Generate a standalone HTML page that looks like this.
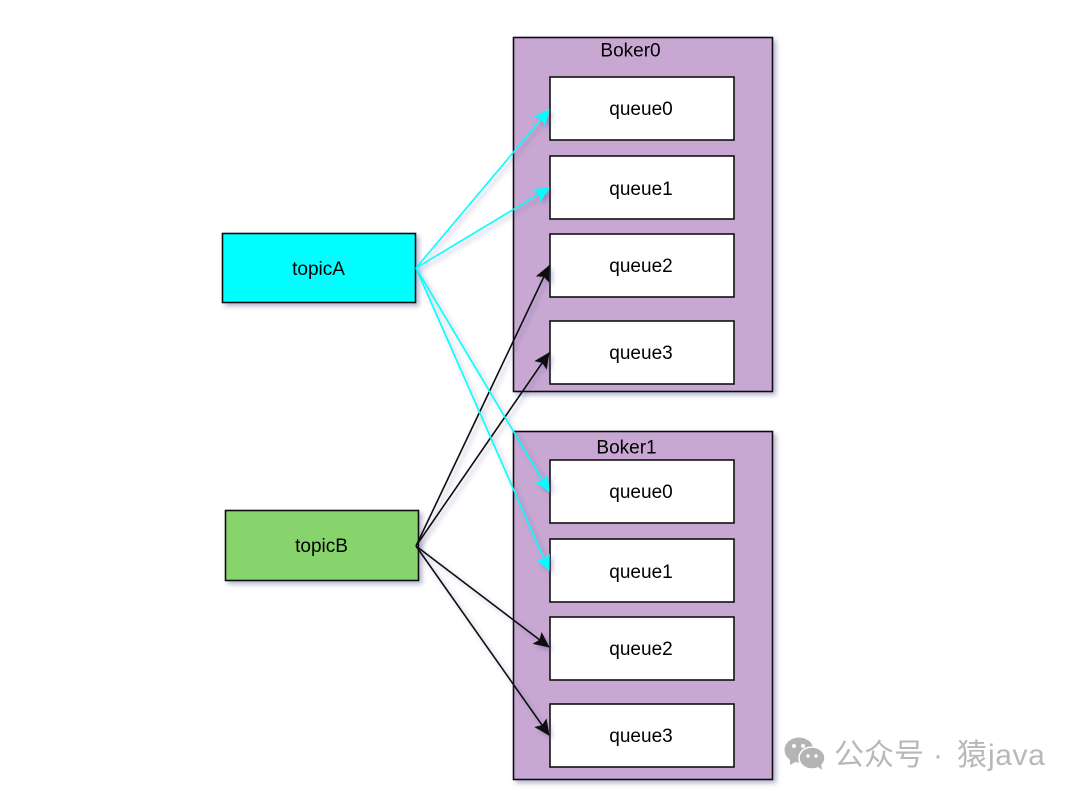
<!DOCTYPE html>
<html>
<head>
<meta charset="utf-8">
<style>
html,body{margin:0;padding:0;background:#fff;width:1080px;height:798px;overflow:hidden}
svg{display:block}
text{font-family:"Liberation Sans",Arial,sans-serif;font-size:19px;fill:#000;text-anchor:middle}
.q{fill:#fff;stroke:#111;stroke-width:1.6}
.b{fill:#c8a8d2;stroke:#111;stroke-width:1.6}
.c{stroke:#00ffff;stroke-width:1.6;fill:none}
.k{stroke:#111;stroke-width:1.6;fill:none}
text.wm{font-family:"Liberation Sans","Noto Sans CJK SC",sans-serif;font-size:30px;fill:#b8b8b8;text-anchor:start}
</style>
</head>
<body>
<svg width="1080" height="798" viewBox="0 0 1080 798" xmlns="http://www.w3.org/2000/svg">
<defs>
<filter id="s" x="-20%" y="-20%" width="140%" height="140%">
<feDropShadow dx="3" dy="3" stdDeviation="2.5" flood-color="#50508c" flood-opacity="0.4"/>
</filter>
<marker id="ac" markerUnits="userSpaceOnUse" markerWidth="20" markerHeight="20" refX="15" refY="9" orient="auto">
<path d="M0 1.5L16 9L0 16.5L3 9Z" fill="#00ffff"/>
</marker>
<marker id="ak" markerUnits="userSpaceOnUse" markerWidth="20" markerHeight="20" refX="15" refY="9" orient="auto">
<path d="M0 1.5L16 9L0 16.5L3 9Z" fill="#111"/>
</marker>
</defs>

<g filter="url(#s)">
<rect class="b" x="513.5" y="37.5" width="259" height="354"/>
<rect class="b" x="513.5" y="431.5" width="259" height="348"/>
<rect x="222.5" y="233.5" width="193" height="69" fill="#00ffff" stroke="#111" stroke-width="1.6"/>
<rect x="225.5" y="510.5" width="193" height="70" fill="#88d46c" stroke="#111" stroke-width="1.6"/>
</g>

<rect class="q" x="550" y="77" width="184" height="63"/>
<rect class="q" x="550" y="156" width="184" height="63"/>
<rect class="q" x="550" y="234" width="184" height="63"/>
<rect class="q" x="550" y="321" width="184" height="63"/>
<rect class="q" x="550" y="460" width="184" height="63"/>
<rect class="q" x="550" y="539" width="184" height="63"/>
<rect class="q" x="550" y="617" width="184" height="63"/>
<rect class="q" x="550" y="704" width="184" height="63"/>

<g filter="url(#s)">
<line class="k" x1="416" y1="546" x2="549" y2="266" marker-end="url(#ak)"/>
<line class="k" x1="416" y1="546" x2="549" y2="353" marker-end="url(#ak)"/>
<line class="k" x1="416" y1="546" x2="549" y2="647" marker-end="url(#ak)"/>
<line class="k" x1="416" y1="546" x2="549" y2="735" marker-end="url(#ak)"/>
<line class="c" x1="416" y1="268" x2="549" y2="110" marker-end="url(#ac)"/>
<line class="c" x1="416" y1="268" x2="549" y2="188" marker-end="url(#ac)"/>
<line class="c" x1="416" y1="268" x2="549" y2="491" marker-end="url(#ac)"/>
<line class="c" x1="416" y1="268" x2="549" y2="570" marker-end="url(#ac)"/>
</g>

<text x="630.5" y="56.5">Boker0</text>
<text x="626.5" y="453.5">Boker1</text>
<text x="641" y="115">queue0</text>
<text x="641" y="195">queue1</text>
<text x="641" y="272">queue2</text>
<text x="641" y="359">queue3</text>
<text x="641" y="498">queue0</text>
<text x="641" y="578">queue1</text>
<text x="641" y="655">queue2</text>
<text x="641" y="742">queue3</text>
<text x="318.5" y="275">topicA</text>
<text x="321.5" y="552">topicB</text>

<g fill="#b4b4b4">
<ellipse cx="799" cy="750" rx="14.5" ry="12.5"/>
<path d="M790 758l0 7 7-4z"/>
<ellipse cx="812" cy="758" rx="13" ry="11" stroke="#fff" stroke-width="1.5"/>
<path d="M817 766l5 4-1-7z"/>
</g>
<g fill="#fff">
<circle cx="794" cy="746" r="2"/><circle cx="803" cy="746" r="2"/>
<circle cx="808" cy="756" r="1.7"/><circle cx="816" cy="756" r="1.7"/>
</g>
<text class="wm" x="834" y="765">公众号</text>
<text class="wm" x="933" y="765">·</text>
<text class="wm" x="957" y="765">猿</text>
<text class="wm" x="988" y="765" style="letter-spacing:.6px">java</text>
</svg>
</body>
</html>
